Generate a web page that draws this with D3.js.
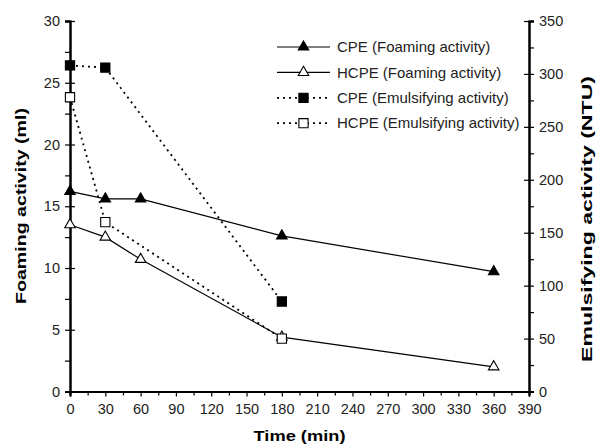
<!DOCTYPE html>
<html>
<head>
<meta charset="utf-8">
<script src="https://cdn.jsdelivr.net/npm/d3@7"></script>
<style>
  body { margin: 0; background: #fff; }
  svg { font-family: "Liberation Sans", Arial, sans-serif; }
</style>
</head>
<body>
<figure id="chart" style="margin:0"></figure>
<script>
// values
const times = [0, 30, 60, 180, 360];
const cpeFoaming = [16.2, 15.6, 15.6, 12.6, 9.7];
const hcpeFoaming = [13.5, 12.5, 10.7, 4.4, 2.0];
const emulTimes = [0, 30, 180];
const cpeEmulsifying = [308, 306, 85];
const hcpeEmulsifying = [278, 160, 50];
const xTicks = d3.range(0, 391, 30);
const yLeftTicks = [0, 5, 10, 15, 20, 25, 30];
const yRightTicks = [0, 50, 100, 150, 200, 250, 300, 350];

const width = 598, height = 445;
const plotLeft = 70, plotRight = 529, plotTop = 21, plotBottom = 391.5;

const svg = d3.select("#chart").append("svg")
  .attr("width", width).attr("height", height);

const x = d3.scaleLinear().domain([0, 390]).range([plotLeft, plotRight]);
const yL = d3.scaleLinear().domain([0, 30]).range([plotBottom, plotTop]);
const yR = d3.scaleLinear().domain([0, 350]).range([plotBottom, plotTop]);

// axes: major ticks cross the line, minor ticks point outward
function styleAxis(g) {
  g.selectAll("path.domain").attr("stroke", "#000").attr("stroke-width", 2);
  g.selectAll(".tick line").attr("stroke", "#000").attr("stroke-width", 1.2);
  g.selectAll(".tick text").attr("fill", "#222").style("font-size", "14.5px");
}

// minor ticks
svg.append("g").attr("transform", `translate(${plotLeft},0)`)
  .call(d3.axisLeft(yL).tickValues(d3.range(2.5, 30, 5)).tickSize(5).tickFormat(""))
  .call(styleAxis);
svg.append("g").attr("transform", `translate(${plotRight},0)`)
  .call(d3.axisRight(yR).tickValues(d3.range(25, 350, 50)).tickSize(5).tickFormat(""))
  .call(styleAxis);
svg.append("g").attr("transform", `translate(0,${plotBottom})`)
  .call(d3.axisBottom(x).tickValues(d3.range(15, 390, 30)).tickSize(4).tickFormat(""))
  .call(styleAxis);

const gL = svg.append("g").attr("transform", `translate(${plotLeft},0)`)
  .call(d3.axisLeft(yL).tickValues(yLeftTicks).tickSizeOuter(0).tickSize(5).tickPadding(5))
  .call(styleAxis);
gL.selectAll(".tick line").attr("x2", -5).attr("x1", 5);

const gR = svg.append("g").attr("transform", `translate(${plotRight},0)`)
  .call(d3.axisRight(yR).tickValues(yRightTicks).tickSizeOuter(0).tickSize(5).tickPadding(5))
  .call(styleAxis);
gR.selectAll(".tick line").attr("x1", -5).attr("x2", 5);

const gB = svg.append("g").attr("transform", `translate(0,${plotBottom})`)
  .call(d3.axisBottom(x).tickValues(xTicks).tickSizeOuter(0).tickSize(5).tickPadding(7))
  .call(styleAxis);

// axis titles (the original bold face is wider than Liberation, so stretch to its length)
svg.append("text")
  .attr("transform", "translate(26,206) rotate(-90)")
  .attr("text-anchor", "middle")
  .attr("textLength", 196).attr("lengthAdjust", "spacingAndGlyphs")
  .style("font-weight", "bold").style("font-size", "15.5px")
  .text("Foaming activity (ml)");
svg.append("text")
  .attr("transform", "translate(592,219) rotate(-90)")
  .attr("text-anchor", "middle")
  .attr("textLength", 286).attr("lengthAdjust", "spacingAndGlyphs")
  .style("font-weight", "bold").style("font-size", "15.5px")
  .text("Emulsifying activity (NTU)");
svg.append("text")
  .attr("x", (plotLeft + plotRight) / 2).attr("y", 441)
  .attr("text-anchor", "middle")
  .attr("textLength", 92).attr("lengthAdjust", "spacingAndGlyphs")
  .style("font-weight", "bold").style("font-size", "15.5px")
  .text("Time (min)");

const triangle = d3.symbol().type(d3.symbolTriangle).size(48);
const square = d3.symbol().type(d3.symbolSquare).size(85);

const series = [
  {name: "CPE (Foaming activity)", t: times, v: cpeFoaming, y: yL, dash: null, sym: triangle, fill: "#000"},
  {name: "HCPE (Foaming activity)", t: times, v: hcpeFoaming, y: yL, dash: null, sym: triangle, fill: "#fff"},
  {name: "CPE (Emulsifying activity)", t: emulTimes, v: cpeEmulsifying, y: yR, dash: "2,4", sym: square, fill: "#000"},
  {name: "HCPE (Emulsifying activity)", t: emulTimes, v: hcpeEmulsifying, y: yR, dash: "2,4", sym: square, fill: "#fff"}
];

series.forEach(s => {
  const pts = s.t.map((t, i) => [x(t), s.y(s.v[i])]);
  svg.append("path")
    .attr("d", d3.line()(pts))
    .attr("fill", "none")
    .attr("stroke", "#000")
    .attr("stroke-width", s.dash ? 1.8 : 1.2)
    .attr("stroke-dasharray", s.dash);
  svg.selectAll(null)
    .data(pts)
    .enter()
    .append("path")
    .attr("d", s.sym)
    .attr("transform", d => `translate(${d[0]},${d[1]})`)
    .attr("fill", s.fill)
    .attr("stroke", "#000")
    .attr("stroke-width", 1.1);
});

// legend
const legend = svg.append("g").attr("transform", "translate(277,47)");
series.forEach((s, i) => {
  const row = legend.append("g").attr("transform", `translate(0,${i * 25.4})`);
  row.append("line")
    .attr("x1", 0).attr("x2", 53)
    .attr("stroke", "#000")
    .attr("stroke-width", s.dash ? 1.8 : 1.2)
    .attr("stroke-dasharray", s.dash);
  row.append("path")
    .attr("d", s.sym)
    .attr("transform", "translate(26.5,0)")
    .attr("fill", s.fill)
    .attr("stroke", "#000")
    .attr("stroke-width", 1.1);
  row.append("text")
    .attr("x", 60).attr("dy", "0.35em")
    .style("font-size", "15px")
    .attr("fill", "#222")
    .text(s.name);
});
</script>
</body>
</html>
